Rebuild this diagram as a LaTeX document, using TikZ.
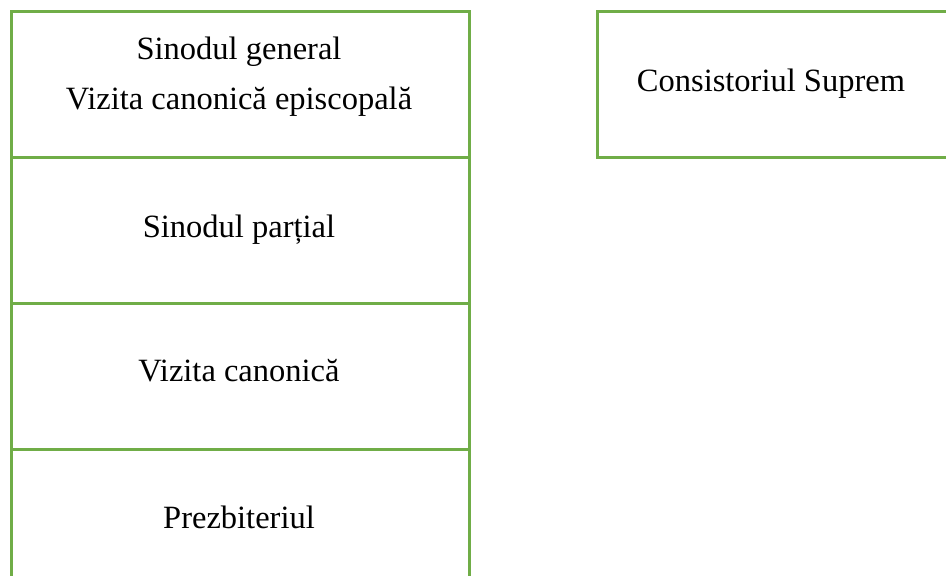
\documentclass[tikz,border=0pt]{standalone}
\usepackage{fontspec}
\setmainfont{Liberation Serif}
\definecolor{boxgreen}{HTML}{70AD47}
\tikzset{
  box/.style={draw=boxgreen, line width=2.6pt, rectangle, inner sep=0pt, anchor=north west},
  lbl/.style={font=\fontsize{32.5}{32.5}\selectfont, inner sep=0pt, anchor=base},
}
\begin{document}
\begin{tikzpicture}[x=1pt,y=-1pt]
\useasboundingbox (0,0) rectangle (946,576);
\clip (0,0) rectangle (946,576);
\node[box, minimum width=458pt, minimum height=146pt] (b1) at (10,10) {};
\node[box, minimum width=458pt, minimum height=146pt] (b2) at (10,156) {};
\node[box, minimum width=458pt, minimum height=146pt] (b3) at (10,302) {};
\node[box, minimum width=458pt, minimum height=146pt] (b4) at (10,448) {};
\node[box, minimum width=380pt, minimum height=146pt] (b5) at (596,10) {};
\node[lbl] (t1) at (239,59) {Sinodul general};
\node[lbl] (t2) at (239,109) {Vizita canonică episcopală};
\node[lbl] (t3) at (239,237) {Sinodul parțial};
\node[lbl] (t4) at (239,381) {Vizita canonică};
\node[lbl] (t5) at (239,528) {Prezbiteriul};
\node[lbl] (t6) at (771,91) {Consistoriul Suprem};
\end{tikzpicture}
\end{document}
